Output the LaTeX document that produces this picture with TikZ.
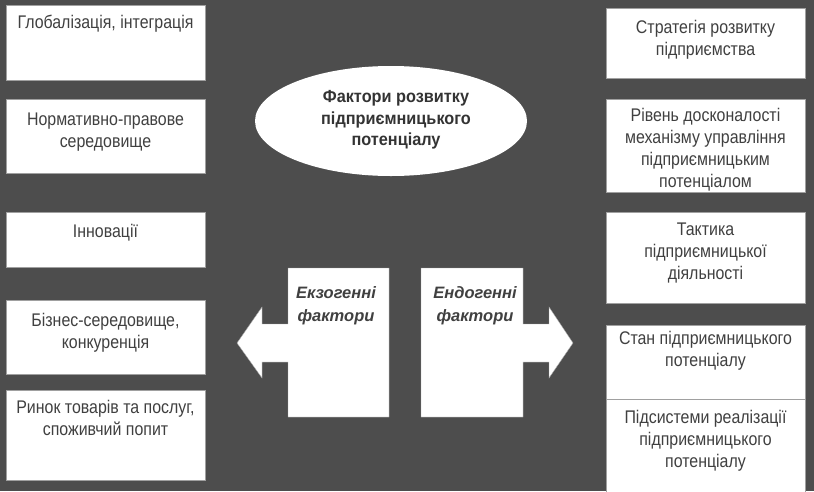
\documentclass[tikz,border=0pt]{standalone}
\usepackage{fontspec}
\setmainfont{Liberation Sans}[FakeStretch=0.87]
\newfontfamily\corefont{Liberation Sans}[FakeStretch=0.93]
\newfontfamily\arrowfont{Liberation Sans}
\usetikzlibrary{shapes.geometric}
\definecolor{bgdark}{HTML}{4D4D4D}
\definecolor{ink}{HTML}{404040}
\definecolor{inkdark}{HTML}{333333}
\definecolor{rim}{HTML}{A0A0A0}
\tikzset{
  factorbox/.style={draw=rim, line width=0.6pt, fill=white, inner sep=0pt,
    minimum width=199pt, anchor=north west},
  factortext/.style={text=ink, align=center, inner sep=0pt,
    font=\fontsize{18.3}{22}\selectfont},
  coretext/.style={text=inkdark, align=center, inner sep=0pt,
    font=\corefont\fontsize{17.5}{21.5}\selectfont\bfseries},
  arrowtext/.style={text=ink, align=center, inner sep=0pt,
    font=\arrowfont\fontsize{16.5}{23}\selectfont\bfseries\itshape},
  blockarrow/.style={fill=white, draw=rim, line width=0.4pt},
}
\begin{document}
\begin{tikzpicture}[x=1pt, y=-1pt]
  \useasboundingbox (0,0) rectangle (814,491);
  \fill[bgdark] (0,0) rectangle (814,491);

  % exogenous factors (left column)
  \node[factorbox, minimum height=75pt] (l1) at (6,5) {};
  \node[factorbox, minimum height=74pt] (l2) at (6,99) {};
  \node[factorbox, minimum height=55pt] (l3) at (6,212) {};
  \node[factorbox, minimum height=74pt] (l4) at (6,300) {};
  \node[factorbox, minimum height=90pt] (l5) at (6,390) {};

  \node[factortext] (tl1) at (105.5,24) {Глобалізація, інтеграція};
  \node[factortext] (tl2) at (105.5,132) {Нормативно-правове\\середовище};
  \node[factortext] (tl3) at (105.5,233) {Інновації};
  \node[factortext] (tl4) at (105.5,333) {Бізнес-середовище,\\конкуренція};
  \node[factortext] (tl5) at (105.5,418) {Ринок товарів та послуг,\\споживчий попит};

  % endogenous factors (right column)
  \node[factorbox, minimum height=70pt] (r1) at (606,8) {};
  \node[factorbox, minimum height=93pt] (r2) at (606,99) {};
  \node[factorbox, minimum height=91pt] (r3) at (606,212) {};
  \node[factorbox, minimum height=74pt] (r4) at (606,325) {};
  \node[factorbox, minimum height=95pt] (r5) at (606,399) {};

  \node[factortext] (tr1) at (705.5,40) {Стратегія розвитку\\підприємства};
  \node[factortext] (tr2) at (705.5,150) {Рівень досконалості\\механізму управління\\підприємницьким\\потенціалом};
  \node[factortext] (tr3) at (705.5,253) {Тактика\\підприємницької\\діяльності};
  \node[factortext] (tr4) at (705.5,351) {Стан підприємницького\\потенціалу};
  \node[factortext] (tr5) at (705.5,441) {Підсистеми реалізації\\підприємницького\\потенціалу};

  % central ellipse
  \node[ellipse, fill=white, inner sep=0pt, minimum width=272pt,
        minimum height=110pt] (core) at (391,121) {};
  \node[coretext] (tcore) at (396,120) {Фактори розвитку\\підприємницького\\потенціалу};

  % block arrows
  \path[blockarrow] (389,268) -- (288,268) -- (288,324) -- (262,324)
    -- (262,307) -- (237,343) -- (262,378) -- (262,362) -- (288,362)
    -- (288,417) -- (389,417) -- cycle;
  \path[blockarrow] (421,268) -- (523,268) -- (523,324) -- (549,324)
    -- (549,307) -- (573,343) -- (549,378) -- (549,362) -- (523,362)
    -- (523,417) -- (421,417) -- cycle;
  \node[arrowtext] (exo) at (336,306) {Екзогенні\\фактори};
  \node[arrowtext] (endo) at (475,306) {Ендогенні\\фактори};
\end{tikzpicture}
\end{document}
